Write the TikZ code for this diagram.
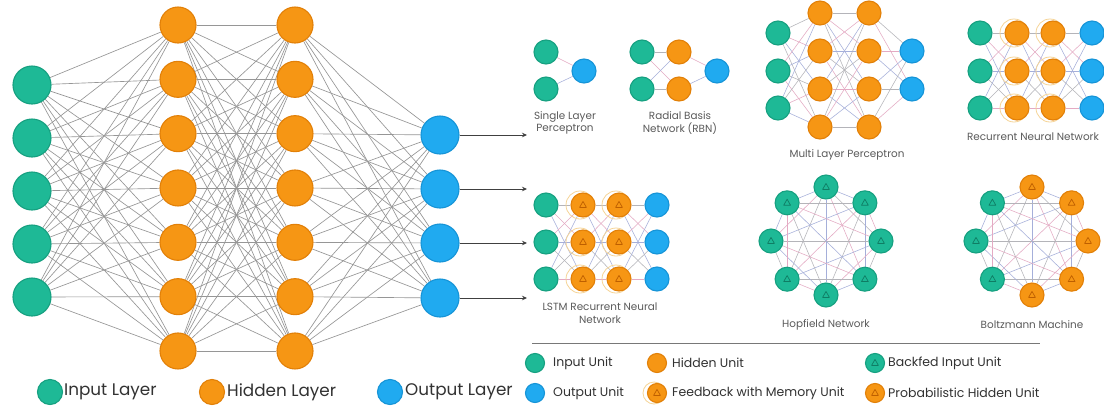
\documentclass[tikz,border=0pt]{standalone}
\usepackage{fontspec}
\setmainfont{Poppins}
\usetikzlibrary{arrows.meta}
\definecolor{ugreen}{RGB}{30,185,150}
\definecolor{ugreenD}{RGB}{22,160,128}
\definecolor{uorange}{RGB}{246,150,20}
\definecolor{uorangeD}{RGB}{226,128,8}
\definecolor{ublue}{RGB}{32,170,240}
\definecolor{ublueD}{RGB}{22,148,215}
\definecolor{wgray}{RGB}{150,150,150}
\definecolor{wpink}{RGB}{228,170,195}
\definecolor{wblue}{RGB}{165,175,218}
\definecolor{wlight}{RGB}{180,180,185}
\definecolor{ringc}{RGB}{246,212,150}
\definecolor{trigreen}{RGB}{15,125,100}
\definecolor{triorange}{RGB}{190,95,0}
\definecolor{capc}{RGB}{90,90,90}
\definecolor{legc}{RGB}{50,50,50}
\definecolor{sepc}{RGB}{120,120,120}
\pgfdeclarelayer{paper}
\pgfdeclarelayer{edges}
\pgfdeclarelayer{rings}
\pgfsetlayers{paper,edges,rings,main}
\begin{document}
\begin{tikzpicture}[x=1pt,y=-1pt,
  unit/.style={circle,inner sep=0pt,line width=1.1pt},
  inu/.style={unit,fill=ugreen,draw=ugreenD},
  hdu/.style={unit,fill=uorange,draw=uorangeD},
  otu/.style={unit,fill=ublue,draw=ublueD},
  sz/.style={minimum size=#1pt},
  tri/.style={path picture={\draw[#1,line width=0.7pt,line join=round]
      ([yshift=3.6pt]path picture bounding box.center) -- ++(3.4,6) -- ++(-6.8,0) -- cycle;}},
  mainwire/.style={draw=wgray,line width=0.65pt},
  w0/.style={draw=wpink,line width=0.55pt},
  w1/.style={draw=wblue,line width=0.55pt},
  w2/.style={draw=wlight,line width=0.55pt},
  ring/.style={draw=ringc,line width=0.8pt},
  netcap/.style={font=\fontsize{10.4}{12.5}\selectfont,text=capc,align=center,inner sep=0pt},
  leg/.style={font=\fontsize{16.8}{19}\selectfont,text=legc,anchor=west,inner sep=0pt},
  legs/.style={font=\fontsize{12.5}{15}\selectfont,text=legc,anchor=west,inner sep=0pt},
  feed/.style={-{Stealth[length=5pt,width=4.5pt]},line width=0.8pt,draw=black!75}
]
\begin{pgfonlayer}{paper}
\fill[white] (0,0) rectangle (1104,405);
\end{pgfonlayer}
\useasboundingbox (0,0) rectangle (1104,405);

% ---------- large feed-forward network ----------
\foreach \y [count=\k] in {85,138,191,244,297}
  \node[inu,sz=38] (I\k) at (32,\y) {};
\foreach \k in {1,...,7} {
  \node[hdu,sz=36] (A\k) at (178,{25+54.33*(\k-1)}) {};
  \node[hdu,sz=36] (B\k) at (295,{25+54.33*(\k-1)}) {};
}
\foreach \y [count=\k] in {135,189,243,298} {
  \node[otu,sz=38] (O\k) at (440,\y) {};
  \coordinate (E\k) at (527,\y);
  \draw[feed] (O\k.east) -- (E\k);
}
\begin{pgfonlayer}{edges}
\foreach \a in {1,...,5} \foreach \b in {1,...,7} \draw[mainwire] (I\a) -- (A\b);
\foreach \a in {1,...,7} \foreach \b in {1,...,7} \draw[mainwire] (A\a) -- (B\b);
\foreach \a in {1,...,7} \foreach \b in {1,...,4} \draw[mainwire] (B\a) -- (O\b);
\end{pgfonlayer}

% legend of the large network
\node[inu,sz=25] (LI) at (50,392) {};
\node[leg] (LIt) at (64,392) {Input Layer};
\node[hdu,sz=25] (LH) at (212,392) {};
\node[leg] (LHt) at (227,392) {Hidden Layer};
\node[otu,sz=25] (LO) at (390,392) {};
\node[leg] (LOt) at (405,392) {Output Layer};

% ---------- single layer perceptron ----------
\node[inu,sz=24] (s1) at (546,52) {};
\node[inu,sz=24] (s2) at (546,89) {};
\node[otu,sz=24] (s3) at (584,71) {};
\begin{pgfonlayer}{edges}
\draw[w0] (s1) -- (s3);
\draw[w1] (s2) -- (s3);
\end{pgfonlayer}
\node[netcap] (sc) at (565,123) {Single Layer\\Perceptron};

% ---------- radial basis network ----------
\node[inu,sz=24] (r1) at (642,52) {};
\node[inu,sz=24] (r2) at (642,89) {};
\node[hdu,sz=24] (rh1) at (679,52) {};
\node[hdu,sz=24] (rh2) at (679,89) {};
\node[otu,sz=24] (ro) at (717,71) {};
\begin{pgfonlayer}{edges}
\draw[w2] (r1) -- (rh1);
\draw[w0] (r1) -- (rh2);
\draw[w1] (r2) -- (rh1);
\draw[w2] (r2) -- (rh2);
\draw[w0] (rh1) -- (ro);
\draw[w1] (rh2) -- (ro);
\end{pgfonlayer}
\node[netcap] (rc) at (680,123) {Radial Basis\\Network (RBN)};

% ---------- multi layer perceptron ----------
\foreach \y [count=\k] in {33,71,108} \node[inu,sz=24] (m\k) at (778,\y) {};
\foreach \y [count=\k] in {13,51,89,127} {
  \node[hdu,sz=24] (ma\k) at (820,\y) {};
  \node[hdu,sz=24] (mb\k) at (869,\y) {};
}
\foreach \y [count=\k] in {51,89} \node[otu,sz=24] (mo\k) at (912,\y) {};
\begin{pgfonlayer}{edges}
\foreach \a in {1,2,3} \foreach \b in {1,...,4} {
  \pgfmathtruncatemacro\m{mod(\a+\b,3)} \draw[w\m] (m\a) -- (ma\b);}
\foreach \a in {1,...,4} \foreach \b in {1,...,4} {
  \pgfmathtruncatemacro\m{mod(\a+\b,3)} \draw[w\m] (ma\a) -- (mb\b);}
\foreach \a in {1,...,4} \foreach \b in {1,2} {
  \pgfmathtruncatemacro\m{mod(\a+\b,3)} \draw[w\m] (mb\a) -- (mo\b);}
\end{pgfonlayer}
\node[netcap] (mc) at (847,155) {Multi Layer Perceptron};

% ---------- recurrent neural network ----------
\foreach \y [count=\k] in {33,71,108} {
  \node[inu,sz=24] (q\k) at (980,\y) {};
  \node[hdu,sz=24] (qa\k) at (1017,\y) {};
  \node[hdu,sz=24] (qb\k) at (1053,\y) {};
  \node[otu,sz=24] (qo\k) at (1092,\y) {};
}
\begin{pgfonlayer}{rings}
\foreach \k in {1,2,3} {
  \draw[ring] ([xshift=-3pt]qa\k.center) circle[radius=14];
  \draw[ring] ([xshift=-3pt]qb\k.center) circle[radius=14];
}
\end{pgfonlayer}
\begin{pgfonlayer}{edges}
\foreach \a in {1,2,3} \foreach \b in {1,2,3} {
  \pgfmathtruncatemacro\m{mod(\a+\b,3)}
  \draw[w\m] (q\a) -- (qa\b);
  \draw[w\m] (qa\a) -- (qb\b);
  \draw[w\m] (qb\a) -- (qo\b);}
\end{pgfonlayer}
\node[netcap] (qc) at (1033,137) {Recurrent Neural Network};

% ---------- LSTM recurrent neural network ----------
\foreach \y [count=\k] in {205,242,279} {
  \node[inu,sz=24] (l\k) at (546,\y) {};
  \node[hdu,sz=24,tri=triorange] (la\k) at (583,\y) {};
  \node[hdu,sz=24,tri=triorange] (lb\k) at (619,\y) {};
  \node[otu,sz=24] (lo\k) at (657,\y) {};
}
\begin{pgfonlayer}{rings}
\foreach \k in {1,2,3} {
  \draw[ring] ([xshift=-3pt]la\k.center) circle[radius=14];
  \draw[ring] ([xshift=-3pt]lb\k.center) circle[radius=14];
}
\end{pgfonlayer}
\begin{pgfonlayer}{edges}
\foreach \a in {1,2,3} \foreach \b in {1,2,3} {
  \pgfmathtruncatemacro\m{mod(\a+\b,3)}
  \draw[w\m] (l\a) -- (la\b);
  \draw[w\m] (la\a) -- (lb\b);
  \draw[w\m] (lb\a) -- (lo\b);}
\end{pgfonlayer}
\node[netcap] (lc) at (600,313) {LSTM Recurrent Neural\\Network};

% ---------- Hopfield network ----------
\foreach \k in {0,...,7} {
  \pgfmathsetmacro\ang{90-45*\k}
  \node[inu,sz=24,tri=trigreen] (hp\k) at ({826+55*cos(\ang)},{241-54*sin(\ang)}) {};
}
\begin{pgfonlayer}{edges}
\foreach \a in {0,...,7} \foreach \b in {0,...,7} {
  \ifnum\a<\b
    \pgfmathtruncatemacro\m{mod(\a+\b,3)}
    \draw[w\m] (hp\a) -- (hp\b);
  \fi}
\end{pgfonlayer}
\node[netcap] (hc) at (826,325) {Hopfield Network};

% ---------- Boltzmann machine ----------
\foreach \k in {0,...,4} {
  \pgfmathsetmacro\ang{90-45*\k}
  \node[hdu,sz=24,tri=triorange] (bz\k) at ({1032+56*cos(\ang)},{241-54*sin(\ang)}) {};
}
\foreach \k in {5,6,7} {
  \pgfmathsetmacro\ang{90-45*\k}
  \node[inu,sz=24,tri=trigreen] (bz\k) at ({1032+56*cos(\ang)},{241-54*sin(\ang)}) {};
}
\begin{pgfonlayer}{edges}
\foreach \a in {0,...,7} \foreach \b in {0,...,7} {
  \ifnum\a<\b
    \pgfmathtruncatemacro\m{mod(\a+\b,3)}
    \draw[w\m] (bz\a) -- (bz\b);
  \fi}
\end{pgfonlayer}
\node[netcap] (bc) at (1032,325) {Boltzmann Machine};

% ---------- unit legend ----------
\draw[draw=sepc,line width=0.7pt] (532,343) -- (1040,343);
\node[inu,sz=19] (ku1) at (535,363) {};
\node[legs] (kt1) at (553,363) {Input Unit};
\node[otu,sz=19] (ku2) at (535,393) {};
\node[legs] (kt2) at (553,393) {Output Unit};
\node[hdu,sz=19] (ku3) at (657,363) {};
\node[legs] (kt3) at (672,363) {Hidden Unit};
\begin{pgfonlayer}{rings}
\draw[ring] (654,393) circle[radius=11];
\end{pgfonlayer}
\node[hdu,sz=19,tri=triorange] (ku4) at (657,393) {};
\node[legs] (kt4) at (672,393) {Feedback with Memory Unit};
\node[inu,sz=19,tri=trigreen] (ku5) at (875,363) {};
\node[legs] (kt5) at (888,363) {Backfed Input Unit};
\node[hdu,sz=19,tri=triorange] (ku6) at (875,393) {};
\node[legs] (kt6) at (888,393) {Probabilistic Hidden Unit};
\end{tikzpicture}
\end{document}
